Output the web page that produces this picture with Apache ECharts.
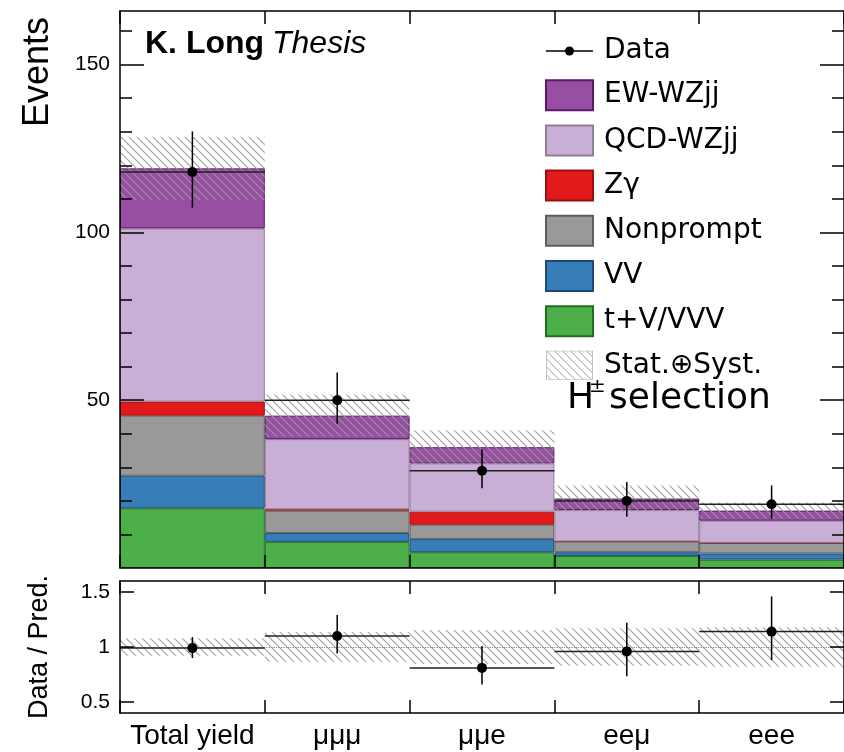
<!DOCTYPE html>
<html>
<head>
<meta charset="utf-8">
<title>H± selection yields</title>
<script src="https://cdn.jsdelivr.net/npm/echarts@6/dist/echarts.min.js"></script>
<style>
  html, body { margin: 0; padding: 0; background: #fff; }
  #chart { width: 844px; height: 752px; }
</style>
</head>
<body>
<div id="chart"></div>
<script>
// bins
var categories = ["Total yield", "μμμ", "μμe", "eeμ", "eee"];

// stacked predictions, bottom to top
var tvVVV = [17.8, 7.8, 4.7, 3.6, 2.5];
var vv = [9.7, 2.6, 3.9, 1.1, 1.8];
var nonprompt = [17.9, 6.7, 4.3, 3.2, 3.2];
var zgamma = [4.2, 0.4, 3.9, 0, 0];
var qcdWZjj = [51.6, 20.9, 14.4, 9.4, 6.6];
var ewWZjj = [17.9, 7.0, 4.8, 3.4, 3.0];
// stat (+) syst half width on the prediction
var predUnc = [9.4, 6.3, 5.0, 3.9, 2.5];

// observed events
var data = [118, 50, 29, 20, 19];
var dataLow = [107.4, 43.0, 23.8, 15.3, 14.7];
var dataHigh = [130.1, 58.3, 35.4, 25.6, 24.6];

// data / prediction
var ratio = [0.99, 1.10, 0.81, 0.96, 1.14];
var ratioLow = [0.90, 0.94, 0.66, 0.735, 0.88];
var ratioHigh = [1.09, 1.29, 1.01, 1.22, 1.46];
var ratioUnc = [0.08, 0.135, 0.155, 0.17, 0.18];

// tick positions
var topTicks = [50, 100, 150];
var topMinorTicks = [10, 20, 30, 40, 60, 70, 80, 90, 110, 120, 130, 140, 160];
var ratioTicks = [0.5, 1, 1.5];

var stacks = [
  { name: "t+V/VVV", values: tvVVV, color: "#4daf4a", border: "#1e6e1e" },
  { name: "VV", values: vv, color: "#377eb8", border: "#1d4a75" },
  { name: "Nonprompt", values: nonprompt, color: "#999999", border: "#5e5e5e" },
  { name: "Zγ", values: zgamma, color: "#e31a1c", border: "#9a1010" },
  { name: "QCD-WZjj", values: qcdWZjj, color: "#c9afd6", border: "#8e7e98" },
  { name: "EW-WZjj", values: ewWZjj, color: "#984ea3", border: "#5a1a66" }
];

// total of the stack per bin, the hatched band sits on it
var predTotal = categories.map(function (c, i) {
  return stacks.reduce(function (s, st) { return s + st.values[i]; }, 0);
});

// hatch pattern "\\\\"
function makeHatch(color) {
  var c = document.createElement("canvas");
  c.width = 8;
  c.height = 8;
  var ctx = c.getContext("2d");
  ctx.strokeStyle = color;
  ctx.lineWidth = 1.1;
  ctx.beginPath();
  ctx.moveTo(-1, -1); ctx.lineTo(9, 9);
  ctx.moveTo(-1, 7); ctx.lineTo(1, 9);
  ctx.moveTo(7, -1); ctx.lineTo(9, 1);
  ctx.stroke();
  return c;
}
var hatchCanvas = makeHatch("rgba(155,155,155,0.95)");

function svgIcon(svg) {
  return "image://data:image/svg+xml;charset=utf-8," + encodeURIComponent(svg);
}
var dataIcon = svgIcon(
  "<svg xmlns='http://www.w3.org/2000/svg' width='47' height='30'>" +
  "<line x1='0' y1='15' x2='47' y2='15' stroke='#000' stroke-width='1.5'/>" +
  "<circle cx='23.5' cy='15' r='4.5' fill='#000'/></svg>");
var hatchIcon = svgIcon(
  "<svg xmlns='http://www.w3.org/2000/svg' width='47' height='30'>" +
  "<defs><pattern id='h' width='8' height='8' patternUnits='userSpaceOnUse'>" +
  "<path d='M-1,-1 L9,9 M-1,7 L1,9 M7,-1 L9,1' stroke='#a0a0a0' stroke-width='1'/></pattern></defs>" +
  "<rect x='0.5' y='0.5' width='46' height='29' fill='url(#h)' stroke='#c0c0c0'/></svg>");

function bandItem(params, api) {
  var x = api.value(0);
  var hi = api.coord([x, api.value(2)]);
  var lo = api.coord([x, api.value(1)]);
  var w = api.size([1, 0])[0];
  return {
    type: "rect",
    shape: { x: hi[0] - w / 2, y: hi[1], width: w, height: lo[1] - hi[1] },
    style: { fill: { image: hatchCanvas, repeat: "repeat" }, stroke: null }
  };
}

function pointItem(params, api) {
  var x = api.value(0);
  var c = api.coord([x, api.value(1)]);
  var lo = api.coord([x, api.value(2)]);
  var hi = api.coord([x, api.value(3)]);
  var w = api.size([1, 0])[0];
  return {
    type: "group",
    children: [
      { type: "line", shape: { x1: c[0] - w / 2, y1: c[1], x2: c[0] + w / 2, y2: c[1] },
        style: { stroke: "#222", lineWidth: 1.5 } },
      { type: "line", shape: { x1: c[0], y1: lo[1], x2: c[0], y2: hi[1] },
        style: { stroke: "#000", lineWidth: 1.5 } },
      { type: "circle", shape: { cx: c[0], cy: c[1], r: 5 }, style: { fill: "#000" } }
    ]
  };
}

var myChart = echarts.init(document.getElementById("chart"));

var frameLine = { show: true, onZero: false, lineStyle: { color: "#000", width: 1.5 } };
var noLabel = { show: false };

function catAxis(grid, pos, labels) {
  return {
    type: "category", data: categories, gridIndex: grid, position: pos, z: 10,
    axisLine: frameLine,
    axisTick: { show: true, inside: true, length: 13, lineStyle: { color: "#000", width: 1.5 } },
    axisLabel: labels ? {
      show: true, interval: 0, margin: 9, color: "#000", fontSize: 28, fontFamily: "Liberation Sans"
    } : noLabel,
    splitLine: { show: false }
  };
}

function valAxis(grid, pos, min, max, ticks, len, labels, line) {
  return {
    type: "value", gridIndex: grid, position: pos, min: min, max: max, z: 10,
    axisLine: line ? frameLine : { show: false },
    axisTick: { show: true, inside: true, length: len, customValues: ticks,
      lineStyle: { color: "#000", width: 1.5 } },
    axisLabel: labels ? {
      show: true, customValues: ticks, margin: 10, color: "#000", fontSize: 21,
      fontFamily: "Liberation Sans"
    } : noLabel,
    splitLine: { show: false }
  };
}

var series = stacks.map(function (st) {
  return {
    name: st.name, type: "bar", stack: "mc", xAxisIndex: 0, yAxisIndex: 0,
    barWidth: "100%", barGap: "-100%", z: 2,
    itemStyle: { color: st.color, borderColor: st.border, borderWidth: 1 },
    emphasis: { disabled: true },
    data: st.values
  };
});

series.push({
  name: "Stat.⊕Syst.", type: "custom", xAxisIndex: 0, yAxisIndex: 0, z: 4,
  renderItem: bandItem, silent: true,
  encode: { x: 0, y: [1, 2] },
  data: categories.map(function (c, i) {
    return [i, predTotal[i] - predUnc[i], predTotal[i] + predUnc[i]];
  })
});
series.push({
  name: "Data", type: "custom", xAxisIndex: 0, yAxisIndex: 0, z: 5,
  renderItem: pointItem, silent: true,
  encode: { x: 0, y: [1, 2, 3] },
  data: categories.map(function (c, i) { return [i, data[i], dataLow[i], dataHigh[i]]; })
});

// ratio panel
series.push({
  name: "ratio-one", type: "line", xAxisIndex: 2, yAxisIndex: 4, data: [], silent: true,
  markLine: {
    silent: true, symbol: "none", label: { show: false },
    lineStyle: { color: "#888", type: "dotted", width: 1.2 },
    data: [{ yAxis: 1 }]
  }
});
series.push({
  name: "ratio-band", type: "custom", xAxisIndex: 2, yAxisIndex: 4, z: 4,
  renderItem: bandItem, silent: true,
  encode: { x: 0, y: [1, 2] },
  data: categories.map(function (c, i) { return [i, 1 - ratioUnc[i], 1 + ratioUnc[i]]; })
});
series.push({
  name: "ratio-data", type: "custom", xAxisIndex: 2, yAxisIndex: 4, z: 5,
  renderItem: pointItem, silent: true,
  encode: { x: 0, y: [1, 2, 3] },
  data: categories.map(function (c, i) { return [i, ratio[i], ratioLow[i], ratioHigh[i]]; })
});

var option = {
  animation: false,
  backgroundColor: "#fff",
  textStyle: { fontFamily: "Liberation Sans" },
  grid: [
    { left: 120, right: 0, top: 11, height: 557, outerBoundsMode: "none" },
    { left: 120, right: 0, top: 581, height: 132, outerBoundsMode: "none" }
  ],
  xAxis: [
    catAxis(0, "bottom", false),
    catAxis(0, "top", false),
    catAxis(1, "bottom", true),
    catAxis(1, "top", false)
  ],
  yAxis: [
    valAxis(0, "left", 0, 166, topTicks, 24, true, true),
    valAxis(0, "left", 0, 166, topMinorTicks, 12, false, false),
    valAxis(0, "right", 0, 166, topTicks, 24, false, true),
    valAxis(0, "right", 0, 166, topMinorTicks, 12, false, false),
    valAxis(1, "left", 0.4, 1.6, ratioTicks, 14, true, true),
    valAxis(1, "right", 0.4, 1.6, ratioTicks, 14, false, true)
  ],
  legend: {
    orient: "vertical", left: 545, top: 36, padding: 0,
    itemWidth: 47, itemHeight: 30, itemGap: 13.2,
    selectedMode: false,
    textStyle: { fontFamily: "DejaVu Sans", fontSize: 28, color: "#000", padding: [0, 0, 0, 6] },
    data: [
      { name: "Data", icon: dataIcon },
      { name: "EW-WZjj", icon: "rect" },
      { name: "QCD-WZjj", icon: "rect" },
      { name: "Zγ", icon: "rect" },
      { name: "Nonprompt", icon: "rect" },
      { name: "VV", icon: "rect" },
      { name: "t+V/VVV", icon: "rect" },
      { name: "Stat.⊕Syst.", icon: hatchIcon }
    ]
  },
  graphic: [
    { type: "text", x: 145, y: 44, z: 20,
      style: { text: "K. Long", fontFamily: "Liberation Sans", fontWeight: "bold",
        fontSize: 32, fill: "#000", verticalAlign: "middle" } },
    { type: "text", x: 272, y: 44, z: 20,
      style: { text: "Thesis", fontFamily: "Liberation Sans", fontStyle: "italic",
        fontSize: 32, fill: "#000", verticalAlign: "middle" } },
    { type: "text", x: 567, y: 399, z: 20,
      style: { text: "H", fontFamily: "DejaVu Sans", fontSize: 36, fill: "#000", verticalAlign: "middle" } },
    { type: "text", x: 589, y: 387, z: 20,
      style: { text: "±", fontFamily: "DejaVu Sans", fontSize: 20, fill: "#000", verticalAlign: "middle" } },
    { type: "text", x: 609, y: 399, z: 20,
      style: { text: "selection", fontFamily: "DejaVu Sans", fontSize: 36, fill: "#000", verticalAlign: "middle" } },
    { type: "text", x: 38, y: 17, rotation: Math.PI / 2, z: 20,
      style: { text: "Events", fontFamily: "Liberation Sans", fontSize: 36, fill: "#000",
        align: "right", verticalAlign: "middle" } },
    { type: "text", x: 40, y: 647, rotation: Math.PI / 2, z: 20,
      style: { text: "Data / Pred.", fontFamily: "Liberation Sans", fontSize: 27, fill: "#000",
        align: "center", verticalAlign: "middle" } }
  ],
  series: series
};

myChart.setOption(option);
</script>
</body>
</html>
